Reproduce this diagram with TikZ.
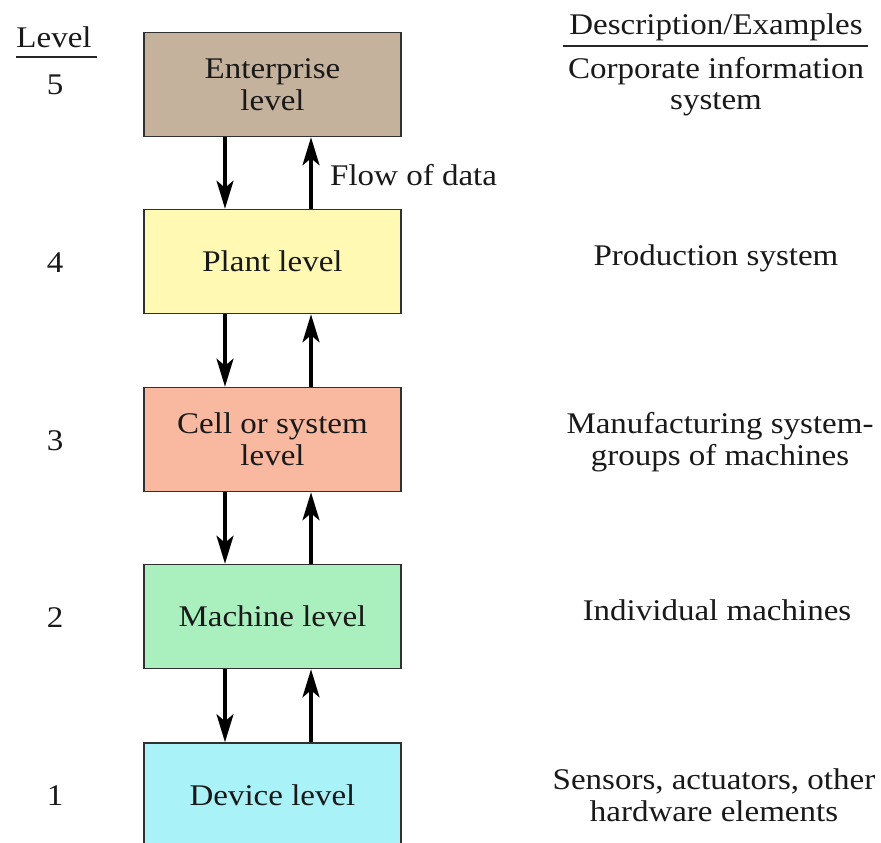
\documentclass[tikz,border=0pt]{standalone}
\usepackage{fontspec}
\setmainfont{Liberation Serif}[FakeStretch=1.1]
\usetikzlibrary{arrows.meta}
\definecolor{entc}{HTML}{C5B29D}
\definecolor{plac}{HTML}{FFF9B4}
\definecolor{celc}{HTML}{F8B9A0}
\definecolor{macc}{HTML}{AAF0BE}
\definecolor{devc}{HTML}{A8F2F8}
\definecolor{edgec}{HTML}{303030}
\tikzset{
  every node/.style={font=\fontsize{30}{32}\selectfont, text=black!90, inner sep=0pt},
  levelbox/.style={draw=edgec, line width=1.6pt, minimum width=257pt, minimum height=104pt, align=center},
  lbl/.style={anchor=base},
  flowarrow/.style={line width=3.2pt, -{Stealth[length=28pt,width=17pt,inset=7pt]}},
  rule/.style={line width=1.2pt, black!85}
}
\begin{document}
\begin{tikzpicture}[x=1pt,y=-1pt]
\useasboundingbox (0,0) rectangle (881,843);
\clip (0,0) rectangle (881,843);
\fill[white] (0,0) rectangle (881,843);

% boxes
\node[levelbox, fill=entc] (ent) at (272.5,84.5) {Enterprise\\level};
\node[levelbox, fill=plac] (pla) at (272.5,261.5) {Plant level};
\node[levelbox, fill=celc] (cel) at (272.5,439.5) {Cell or system\\level};
\node[levelbox, fill=macc] (mac) at (272.5,616.5) {Machine level};
\node[levelbox, fill=devc] (dev) at (272.5,795) {Device level};

% arrows
\foreach \a/\b in {ent/pla, pla/cel, cel/mac, mac/dev}{
  \draw[flowarrow] ([xshift=-47.5pt]\a.south) -- ([xshift=-47.5pt]\b.north);
  \draw[flowarrow] ([xshift=38.5pt]\b.north) -- ([xshift=38.5pt]\a.south);
}
\node[lbl, anchor=base west] (flow) at (330,185) {Flow of data};

% level column
\node[lbl] (lvlhead) at (54,48) {Level};
\draw[rule] (16,57) -- (97,57);
\node[lbl] (l5) at (55,95) {5};
\node[lbl] (l4) at (55,272) {4};
\node[lbl] (l3) at (55,450) {3};
\node[lbl] (l2) at (55,627) {2};
\node[lbl] (l1) at (55,805) {1};

% description column
\node[lbl] (dhead) at (716,35) {Description/Examples};
\draw[rule] (563,46) -- (868,46);
\node[lbl] (d5a) at (716,78) {Corporate information};
\node[lbl] (d5b) at (716,110) {system};
\node[lbl] (d4) at (716,265) {Production system};
\node[lbl] (d3a) at (720,433) {Manufacturing system-};
\node[lbl] (d3b) at (720,465) {groups of machines};
\node[lbl] (d2) at (717,620) {Individual machines};
\node[lbl] (d1a) at (714,789) {Sensors, actuators, other};
\node[lbl] (d1b) at (714,821) {hardware elements};
\end{tikzpicture}
\end{document}
